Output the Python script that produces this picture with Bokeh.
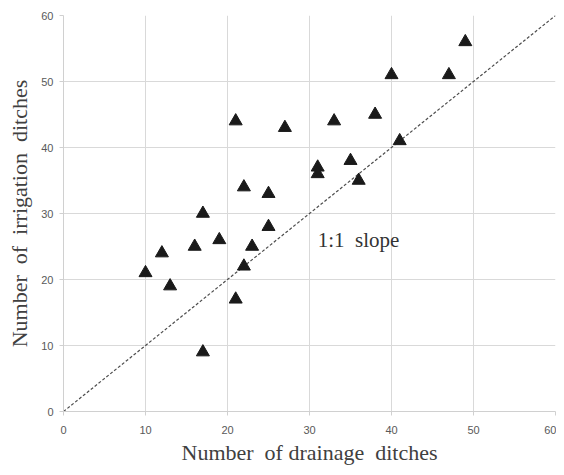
from bokeh.plotting import figure
from bokeh.models import ColumnDataSource, Range1d, SingleIntervalTicker
from bokeh.embed import file_html
from bokeh.resources import INLINE
from bokeh.core.properties import value

drainage = [10, 12, 13, 16, 17, 17, 19, 21, 21, 22, 22, 23, 25, 25, 27, 31, 31, 33, 35, 36, 38, 40, 41, 47, 49]
irrigation = [21, 24, 19, 25, 30, 9, 26, 44, 17, 34, 22, 25, 33, 28, 43, 37, 36, 44, 38, 35, 45, 51, 41, 51, 56]
slope_x = [0, 60]
slope_y = [0, 60]
label_text = ["1:1\u00a0\u00a0slope"]
label_x = [31]
label_y = [26]

p = figure(width=556, height=467, output_backend="svg", toolbar_location=None,
           x_range=Range1d(0, 60), y_range=Range1d(0, 60),
           min_border_left=63, min_border_right=1, min_border_top=15, min_border_bottom=55)
p.outline_line_color = None
p.background_fill_color = "white"

p.line(slope_x, slope_y, line_color="#4d4d4d", line_width=1.2, line_dash="3 2")
src = ColumnDataSource(dict(x=drainage, y=irrigation))
p.scatter("x", "y", source=src, marker="triangle", size=13, fill_color="#1a1a1a", line_color="#1a1a1a")
p.text(x=label_x, y=label_y, text=label_text, text_font=value("Liberation Serif"),
       text_font_size="21px", text_color="#333333", text_baseline="middle", text_align="left")

for ax in (p.xaxis[0], p.yaxis[0]):
    ax.ticker = SingleIntervalTicker(interval=10)
    ax.axis_line_color = "#d0d0d0"
    ax.major_tick_line_color = "#d0d0d0"
    ax.major_tick_out = 4
    ax.major_tick_in = 0
    ax.minor_tick_line_color = None
    ax.major_label_text_font = "Liberation Sans"
    ax.major_label_text_font_size = "11px"
    ax.major_label_text_color = "#595959"
    ax.axis_label_text_font = "Liberation Serif"
    ax.axis_label_text_font_size = "22px"
    ax.axis_label_text_font_style = "normal"
    ax.axis_label_text_color = "#404040"

p.xaxis.axis_label = "Number\u00a0\u00a0of\u00a0drainage\u00a0\u00a0ditches"
p.yaxis.axis_label = "Number\u00a0\u00a0of\u00a0\u00a0irrigation\u00a0\u00a0ditches"
p.xaxis.major_label_standoff = 10
p.xaxis.axis_label_standoff = 3
p.yaxis.major_label_standoff = 6
p.yaxis.axis_label_standoff = 6

p.xgrid.grid_line_color = "#d9d9d9"
p.ygrid.grid_line_color = "#d9d9d9"
p.xgrid.ticker = SingleIntervalTicker(interval=10)
p.ygrid.ticker = SingleIntervalTicker(interval=10)

open("out.html", "w").write(file_html(p, INLINE))
